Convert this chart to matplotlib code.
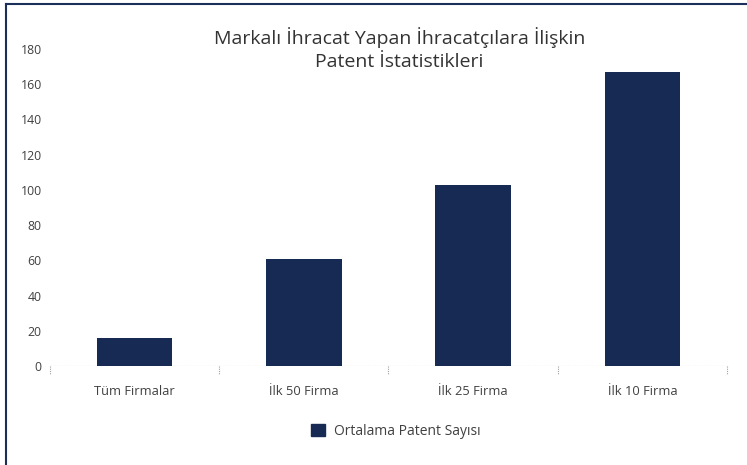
import matplotlib
matplotlib.use("Agg")
import matplotlib.pyplot as plt
from matplotlib.patches import Rectangle
from matplotlib.lines import Line2D
import matplotlib.transforms as mtransforms

categories = ["Tüm Firmalar", "İlk 50 Firma", "İlk 25 Firma", "İlk 10 Firma"]
values = [16, 61, 103, 167]
series_name = "Ortalama Patent Sayısı"
yticks = [0, 20, 40, 60, 80, 100, 120, 140, 160, 180]
title = "Markalı İhracat Yapan İhracatçılara İlişkin\nPatent İstatistikleri"

bar_color = "#172a53"
text_color = "#404040"
plt.rcParams['font.family'] = ['Open Sans', 'DejaVu Sans']

fig = plt.figure(figsize=(7.47, 4.65), dpi=100)
ax = fig.add_axes([0.0669, 0.2129, 0.9063, 0.6817])

x = list(range(len(categories)))
ax.bar(x, values, width=0.445, color=bar_color, zorder=3)
ax.set_xlim(-0.5, len(categories) - 0.5)
ax.set_ylim(0, 180)
ax.set_yticks(yticks)
ax.set_yticklabels([str(t) for t in yticks], color=text_color, fontsize=8.8)
ax.set_xticks(x)
ax.set_xticklabels(categories, color=text_color, fontsize=9.3)
ax.tick_params(axis='y', length=0, pad=6)
ax.tick_params(axis='x', length=0, pad=14)
for s in ax.spines.values():
    s.set_visible(False)

# dotted baseline and category separators
ax.axhline(0, color="#a0a0a0", lw=0.8, ls=(0, (1, 1)), zorder=2)
trans = mtransforms.blended_transform_factory(ax.transData, ax.transAxes)
for b in [i - 0.5 for i in range(len(categories) + 1)]:
    ax.add_line(Line2D([b, b], [0, -0.025], transform=trans, color="#a0a0a0",
                       lw=0.8, ls=(0, (1, 1)), clip_on=False))

fig.text(0.5345, 0.895, title, ha='center', va='center', fontsize=14,
         color="#333333", linespacing=1.35)

# legend
leg_handle = Rectangle((0, 0), 1, 1, color=bar_color)
fig.legend([leg_handle], [series_name], loc='center', bbox_to_anchor=(0.53, 0.073),
           frameon=False, fontsize=10, handlelength=1.0, handleheight=1.0,
           handletextpad=0.7, labelcolor=text_color)

# frame lines (top and left)
fig.add_artist(Line2D([0.008, 0.008], [0.0, 0.991], transform=fig.transFigure,
                      color="#1c2f5a", lw=1.5))
fig.add_artist(Line2D([0.008, 1.0], [0.991, 0.991], transform=fig.transFigure,
                      color="#1c2f5a", lw=1.5))

fig.savefig("out.png", dpi=100)
